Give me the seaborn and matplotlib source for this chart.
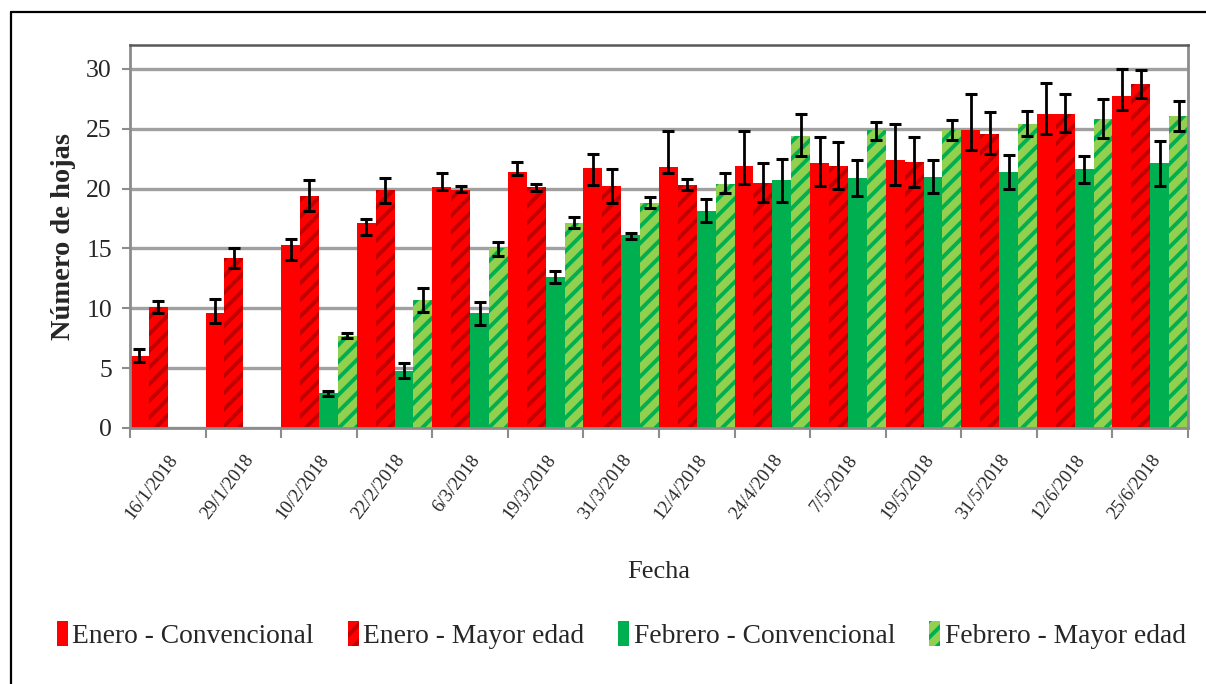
import numpy as np
import pandas as pd
import matplotlib
matplotlib.use("Agg")
import matplotlib.pyplot as plt
from matplotlib.patches import Patch
from matplotlib.lines import Line2D
from matplotlib.container import BarContainer
import seaborn as sns

nan = np.nan

fechas = ["16/1/2018", "29/1/2018", "10/2/2018", "22/2/2018", "6/3/2018",
          "19/3/2018", "31/3/2018", "12/4/2018", "24/4/2018", "7/5/2018",
          "19/5/2018", "31/5/2018", "12/6/2018", "25/6/2018"]

series = ["Enero - Convencional", "Enero - Mayor edad",
          "Febrero - Convencional", "Febrero - Mayor edad"]

# mean number of leaves per date
enero_conv = [6.0, 9.6, 15.3, 17.1, 20.1, 21.4, 21.7, 21.8, 21.9, 22.1, 22.4, 24.9, 26.2, 27.7]
enero_mayor = [10.1, 14.2, 19.4, 19.9, 19.9, 20.1, 20.2, 20.3, 20.5, 21.9, 22.2, 24.6, 26.2, 28.7]
febrero_conv = [nan, nan, 2.9, 4.8, 9.6, 12.6, 16.1, 18.1, 20.7, 20.9, 21.0, 21.4, 21.6, 22.1]
febrero_mayor = [nan, nan, 7.7, 10.7, 15.0, 17.1, 18.8, 20.4, 24.4, 24.9, 24.9, 25.4, 25.8, 26.1]

# lower / upper ends of the error bars
enero_conv_lo = [5.5, 8.8, 14.0, 16.1, 19.9, 21.1, 20.3, 21.3, 20.4, 20.2, 20.3, 23.2, 24.6, 26.6]
enero_conv_hi = [6.6, 10.8, 15.8, 17.5, 21.3, 22.2, 22.9, 24.8, 24.8, 24.3, 25.4, 27.9, 28.8, 30.0]
enero_mayor_lo = [9.6, 13.4, 18.1, 18.8, 19.7, 19.8, 18.8, 19.9, 18.9, 20.0, 20.1, 22.9, 24.7, 27.6]
enero_mayor_hi = [10.6, 15.0, 20.7, 20.9, 20.2, 20.4, 21.6, 20.8, 22.1, 23.9, 24.3, 26.4, 27.9, 29.9]
febrero_conv_lo = [nan, nan, 2.7, 4.2, 8.6, 12.1, 15.8, 17.2, 18.9, 19.4, 19.6, 20.0, 20.5, 20.2]
febrero_conv_hi = [nan, nan, 3.1, 5.4, 10.5, 13.1, 16.3, 19.1, 22.5, 22.4, 22.4, 22.8, 22.7, 24.0]
febrero_mayor_lo = [nan, nan, 7.5, 9.7, 14.4, 16.7, 18.4, 19.6, 22.7, 24.1, 24.1, 24.4, 24.2, 24.8]
febrero_mayor_hi = [nan, nan, 7.9, 11.7, 15.5, 17.6, 19.3, 21.3, 26.2, 25.6, 25.7, 26.5, 27.5, 27.3]

values = [enero_conv, enero_mayor, febrero_conv, febrero_mayor]
lows = [enero_conv_lo, enero_mayor_lo, febrero_conv_lo, febrero_mayor_lo]
highs = [enero_conv_hi, enero_mayor_hi, febrero_conv_hi, febrero_mayor_hi]

face = ["#FF0000", "#FF0000", "#00B050", "#92D050"]
hatch_col = [None, "#C00000", None, "#00B050"]

sns.set_theme(style="white")
plt.rcParams["font.family"] = ["Liberation Serif", "DejaVu Serif"]
plt.rcParams["hatch.linewidth"] = 2.8

rows = []
for s, vals in zip(series, values):
    for f, v in zip(fechas, vals):
        rows.append({"Fecha": f, "Serie": s, "Hojas": v})
df = pd.DataFrame(rows).dropna()

fig = plt.figure(figsize=(12.06, 6.84), dpi=100)
ax = fig.add_axes([130 / 1206, 1 - 428 / 684, (1188 - 130) / 1206, (428 - 45) / 684])

sns.barplot(data=df, x="Fecha", y="Hojas", hue="Serie", order=fechas,
            hue_order=series, palette=face, width=1.0, errorbar=None,
            linewidth=0, saturation=1, ax=ax, legend=False, zorder=2)

bar_groups = [c for c in ax.containers if isinstance(c, BarContainer)]
for k, cont in enumerate(bar_groups):
    xs, ys, el, eh = [], [], [], []
    for bar in cont:
        xc = bar.get_x() + bar.get_width() / 2
        i = int(round(xc))
        if hatch_col[k] is not None:
            bar.set_hatch("//")
            bar.set_edgecolor(hatch_col[k])
            bar.set_linewidth(0)
        v = values[k][i]
        xs.append(xc)
        ys.append(v)
        el.append(v - lows[k][i])
        eh.append(highs[k][i] - v)
    ax.errorbar(xs, ys, yerr=[el, eh], fmt="none", ecolor="black",
                elinewidth=2, capsize=4.5, capthick=2.2, zorder=4)

ax.set_xlim(-0.5, len(fechas) - 0.5)
ax.set_ylim(0, 32)
ax.set_yticks(range(0, 31, 5))
ax.yaxis.grid(True, color="#A0A0A0", linewidth=2.4, zorder=0)
ax.set_axisbelow(True)

ax.set_xticks(range(len(fechas)))
ax.set_xticklabels(fechas, rotation=53, ha="right", rotation_mode="anchor", fontsize=13.5)
ax.set_xticks(np.arange(-0.5, len(fechas), 1.0), minor=True)
ax.tick_params(axis="x", which="major", length=0, pad=17)
ax.tick_params(axis="x", which="minor", length=7, width=1.5, color="#8C8C8C", bottom=True)
ax.tick_params(axis="y", length=6, width=1.5, color="#8C8C8C", left=True, labelsize=18.5, pad=7)

for side in ["left", "bottom", "right"]:
    ax.spines[side].set_color("#8C8C8C")
    ax.spines[side].set_linewidth(2)
ax.spines["top"].set_color("#595959")
ax.spines["top"].set_linewidth(1.8)

ax.set_xlabel("Fecha", fontsize=19)
ax.xaxis.set_label_coords(0.5, (428 - 561) / 383)
ax.set_ylabel("Número de hojas", fontsize=20.5, fontweight="bold")
ax.yaxis.set_label_coords((76 - 130) / 1058, 0.5)

handles = []
for k in range(4):
    if hatch_col[k] is None:
        handles.append(Patch(facecolor=face[k], linewidth=0))
    else:
        handles.append(Patch(facecolor=face[k], edgecolor=hatch_col[k], hatch="//", linewidth=0))
fig.legend(handles, series, loc="center", bbox_to_anchor=(0.515, 1 - 635 / 684),
           ncol=4, frameon=False, fontsize=19.8, handlelength=0.4, handleheight=1.0,
           handletextpad=0.15, columnspacing=1.25)

# outer frame of the figure
fig.add_artist(Line2D([10.5 / 1206, 10.5 / 1206], [0, 1 - 12 / 684], color="black", lw=1.6, transform=fig.transFigure))
fig.add_artist(Line2D([10.5 / 1206, 1], [1 - 12 / 684, 1 - 12 / 684], color="black", lw=1.6, transform=fig.transFigure))

fig.savefig("out.png", dpi=100)
